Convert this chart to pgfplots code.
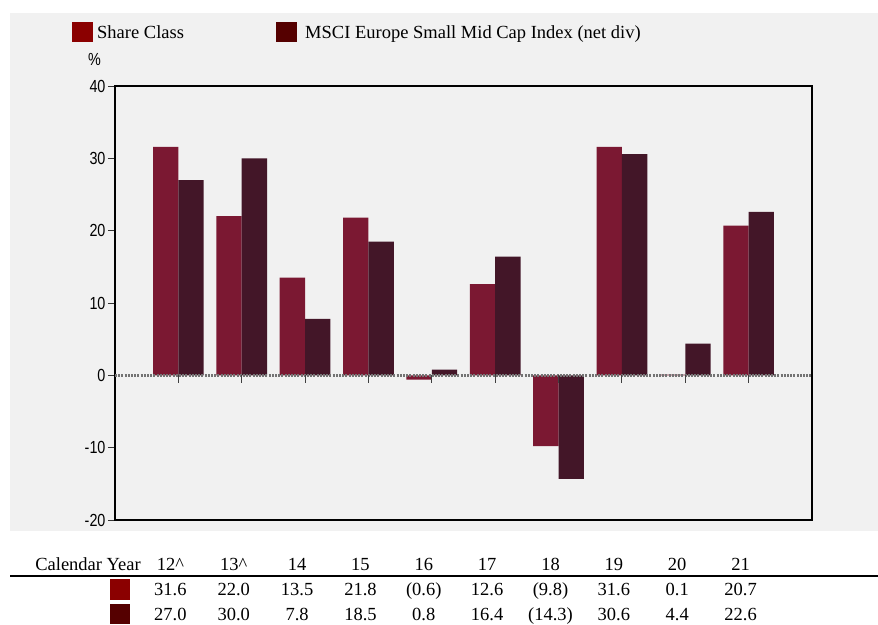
\documentclass[border=0pt]{standalone}
\usepackage{fontspec}
\setmainfont{Liberation Serif}
\newfontfamily\arialfont[FakeStretch=0.82]{Liberation Sans}
\usepackage{pgfplots}
\pgfplotsset{compat=1.18}
\definecolor{bgray}{RGB}{241,241,241}
\definecolor{shareclass}{RGB}{123,24,50}
\definecolor{msciindex}{RGB}{67,22,40}
\definecolor{legshare}{RGB}{139,0,0}
\definecolor{legindex}{RGB}{85,0,0}

\begin{document}
\begin{tikzpicture}
\path[use as bounding box] (0pt,0pt) rectangle (878pt,-624pt);
\fill[bgray] (10pt,-13pt) rectangle (878pt,-531pt);

% legend
\fill[legshare] (72pt,-22pt) rectangle (93pt,-42pt);
\node[anchor=base west,inner sep=0pt,font=\fontsize{18.5}{20}\selectfont] at (97pt,-38.5pt) {Share Class};
\fill[legindex] (276pt,-22pt) rectangle (297pt,-42pt);
\node[anchor=base west,inner sep=0pt,font=\fontsize{18.5}{20}\selectfont] at (305pt,-38.5pt) {MSCI Europe Small Mid Cap Index (net div)};
\node[inner sep=0pt,font=\arialfont\fontsize{17.5}{19}\selectfont] at (94.5pt,-59.5pt) {\%};

\begin{axis}[
  at={(115pt,-520pt)}, anchor=south west,
  scale only axis, width=697pt, height=434pt,
  xmin=0, xmax=11, ymin=-20, ymax=40,
  xtick=\empty,
  ytick={-20,-10,...,40},
  ytick pos=left, tick align=outside, major tick length=7pt,
  y tick style={black!80, line width=0.9pt},
  tick label style={font=\arialfont\fontsize{17.5}{19}\selectfont},
  yticklabel style={xshift=1pt},
  /pgf/number format/assume math mode=true,
  axis line style={black, line width=2pt},
  ybar, bar width=0.4,
  clip=false,
]
\addplot[draw=none, fill=shareclass, bar shift=-0.2] coordinates {
  (1,31.6) (2,22.0) (3,13.5) (4,21.8) (5,-0.6) (6,12.6) (7,-9.8) (8,31.6) (9,0.1) (10,20.7)};
\addplot[draw=none, fill=msciindex, bar shift=0.2] coordinates {
  (1,27.0) (2,30.0) (3,7.8) (4,18.5) (5,0.8) (6,16.4) (7,-14.3) (8,30.6) (9,4.4) (10,22.6)};
\draw[black!55, line width=2.4pt, dash pattern=on 2pt off 1.2pt] (axis cs:0,0) -- (axis cs:11,0);
\pgfplotsinvokeforeach{1,...,10}{\draw[black!75, line width=0.9pt] (axis cs:#1,0) -- ++(0pt,-8pt);}
\end{axis}

% data table below
\node[anchor=base east,inner sep=0pt,font=\fontsize{18.5}{20}\selectfont] at (141pt,-570pt) {Calendar Year};
\foreach \v [count=\k] in {12\textasciicircum,13\textasciicircum,14,15,16,17,18,19,20,21}
  \node[anchor=base,inner sep=0pt,font=\fontsize{18.5}{20}\selectfont] at ({(107+63.36*\k)*1pt},-570pt) {\v};
\draw[black, line width=1.8pt] (10pt,-576pt) -- (878pt,-576pt);
\fill[legshare] (110pt,-579pt) rectangle (130pt,-600pt);
\fill[legindex] (110pt,-604pt) rectangle (130pt,-624pt);
\foreach \v [count=\k] in {31.6,22.0,13.5,21.8,(0.6),12.6,(9.8),31.6,0.1,20.7}
  \node[anchor=base,inner sep=0pt,font=\fontsize{18.5}{20}\selectfont] at ({(107+63.36*\k)*1pt},-595pt) {\v};
\foreach \v [count=\k] in {27.0,30.0,7.8,18.5,0.8,16.4,(14.3),30.6,4.4,22.6}
  \node[anchor=base,inner sep=0pt,font=\fontsize{18.5}{20}\selectfont] at ({(107+63.36*\k)*1pt},-620pt) {\v};
\end{tikzpicture}
\end{document}
